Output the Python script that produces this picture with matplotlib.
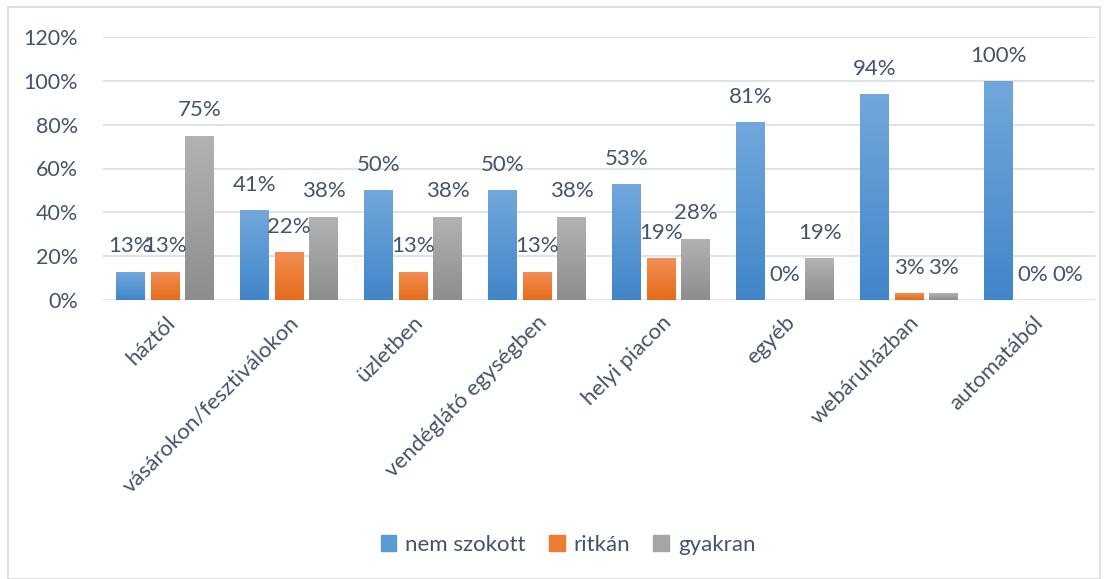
import matplotlib
matplotlib.use("Agg")
import matplotlib.pyplot as plt
import numpy as np
from matplotlib.patches import Rectangle
from matplotlib.colors import LinearSegmentedColormap

categories = ["háztól", "vásárokon/fesztiválokon", "üzletben", "vendéglátó egységben",
              "helyi piacon", "egyéb", "webáruházban", "automatából"]
nem_szokott = [13, 41, 50, 50, 53, 81, 94, 100]
ritkan = [13, 22, 13, 13, 19, 0, 3, 0]
gyakran = [75, 38, 38, 38, 28, 19, 3, 0]
series_names = ["nem szokott", "ritkán", "gyakran"]
yticks = [0, 20, 40, 60, 80, 100, 120]

plt.rcParams['font.family'] = ['Lato', 'DejaVu Sans']
txt = '#44546a'
fs = 16

fig = plt.figure(figsize=(11.08, 5.79), dpi=100)
ax = fig.add_axes([103/1108, 1-300/579, (1095-103)/1108, (300-37)/579])

grads = [("#72a7dc", "#4186c9"), ("#f28f56", "#e56b19"), ("#b3b3b3", "#8d8d8d")]
solid = ["#5b9bd5", "#ed7d31", "#a5a5a5"]
width = 0.23
offsets = [-0.28, 0.0, 0.28]
x = np.arange(len(categories))
grad_img = np.linspace(1, 0, 256).reshape(-1, 1)

for si, (vals, off) in enumerate(zip([nem_szokott, ritkan, gyakran], offsets)):
    bars = ax.bar(x + off, vals, width, color=solid[si], label=series_names[si], zorder=2)
    cmap = LinearSegmentedColormap.from_list("g%d" % si, [grads[si][1], grads[si][0]])
    for b, v in zip(bars, vals):
        if v > 0:
            im = ax.imshow(grad_img, extent=[b.get_x(), b.get_x() + b.get_width(), 0, v],
                           cmap=cmap, aspect='auto', origin='upper', zorder=3,
                           interpolation='bicubic', vmin=0, vmax=1)
            im.set_clip_path(b)
        ax.annotate(f"{v}%", (b.get_x() + b.get_width() / 2, v), xytext=(0, 11),
                    textcoords='offset points', ha='center', va='bottom',
                    fontsize=fs, color=txt, zorder=4)

ax.set_xlim(-0.5, len(categories) - 0.5)
ax.set_ylim(0, 120)
ax.set_yticks(yticks)
ax.set_yticklabels([f"{t}%" for t in yticks], fontsize=15.5, color=txt)
ax.yaxis.grid(True, color='#d9dde3', lw=1.2, zorder=0)
ax.set_axisbelow(True)
for s in ax.spines.values():
    s.set_visible(False)
ax.tick_params(axis='both', length=0)
ax.tick_params(axis='y', pad=18)
ax.set_xticks(x)
ax.set_xticklabels(categories, rotation=45, ha='right', rotation_mode='anchor',
                   fontsize=fs, color=txt)
ax.tick_params(axis='x', pad=9)

handles = [Rectangle((0, 0), 1, 1, color=c) for c in solid]
fig.legend(handles, series_names, loc='center', bbox_to_anchor=(568/1108, 1-545/579),
           ncol=3, frameon=False, fontsize=fs, labelcolor=txt, handlelength=0.7,
           handleheight=0.7, handletextpad=0.4, columnspacing=1.05)

fig.patches.append(Rectangle((8/1108, 0), (1100-8)/1108, 1-7/579, transform=fig.transFigure,
                             fill=False, edgecolor='#d9d9d9', lw=1.2))

fig.savefig("out.png", dpi=100)
